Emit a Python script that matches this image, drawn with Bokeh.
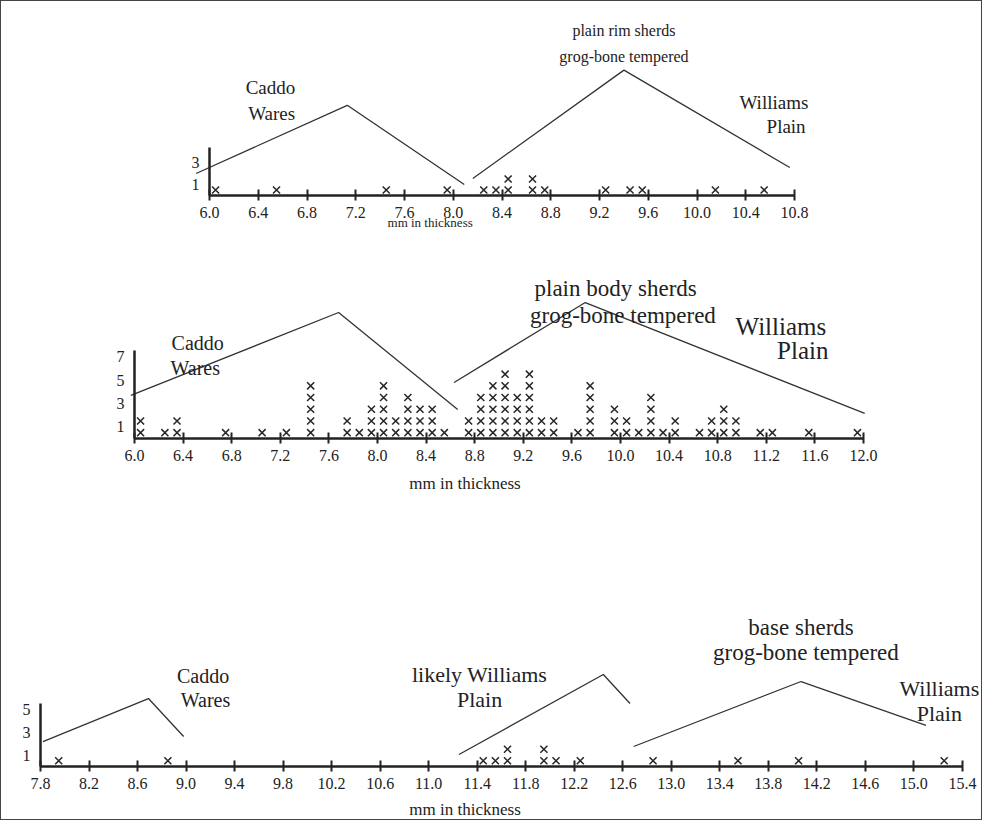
from bokeh.plotting import figure
from bokeh.layouts import column
from bokeh.models import Range1d, LinearAxis, FixedTicker, Label
from bokeh.embed import file_html
from bokeh.resources import INLINE

# ---------------- data ----------------
# Panel 1: plain rim sherds (bin centres in mm, number of sherds)
rim_mm = [6.05, 6.55, 7.45, 7.95, 8.25, 8.35, 8.45, 8.65, 8.75, 9.25, 9.45, 9.55, 10.15, 10.55]
rim_n = [1, 1, 1, 1, 1, 1, 2, 2, 1, 1, 1, 1, 1, 1]
rim_xticks = ["6.0", "6.4", "6.8", "7.2", "7.6", "8.0", "8.4", "8.8", "9.2", "9.6", "10.0", "10.4", "10.8"]
rim_yticks = ["1", "3"]

# Panel 2: plain body sherds
body_mm = [6.05, 6.25, 6.35, 6.75, 7.05, 7.25, 7.45, 7.75, 7.85, 7.95, 8.05, 8.15, 8.25, 8.35,
           8.45, 8.55, 8.75, 8.85, 8.95, 9.05, 9.15, 9.25, 9.35, 9.45, 9.65, 9.75, 9.95, 10.05,
           10.15, 10.25, 10.35, 10.45, 10.65, 10.75, 10.85, 10.95, 11.15, 11.25, 11.55, 11.95]
body_n = [2, 1, 2, 1, 1, 1, 5, 2, 1, 3, 5, 2, 4, 3,
          3, 1, 2, 4, 5, 6, 4, 6, 2, 2, 1, 5, 3, 2,
          1, 4, 1, 2, 1, 2, 3, 2, 1, 1, 1, 1]
body_xticks = ["6.0", "6.4", "6.8", "7.2", "7.6", "8.0", "8.4", "8.8", "9.2", "9.6", "10.0",
               "10.4", "10.8", "11.2", "11.6", "12.0"]
body_yticks = ["1", "3", "5", "7"]

# Panel 3: base sherds
base_mm = [7.95, 8.85, 11.45, 11.55, 11.65, 11.95, 12.05, 12.25, 12.85, 13.55, 14.05, 15.25]
base_n = [1, 1, 1, 1, 2, 2, 1, 1, 1, 1, 1, 1]
base_xticks = ["7.8", "8.2", "8.6", "9.0", "9.4", "9.8", "10.2", "10.6", "11.0", "11.4", "11.8",
               "12.2", "12.6", "13.0", "13.4", "13.8", "14.2", "14.6", "15.0", "15.4"]
base_yticks = ["1", "3", "5"]

axis_title = "mm in thickness"

# grouping brackets (mm, level) and their labels
rim_brackets = [([5.89, 7.13, 8.09], [2.0, 8.2, 1.0]),
                ([8.16, 9.40, 10.76], [1.55, 11.4, 2.55])]
rim_texts = [("plain rim sherds", 9.40, 15.0, 16), ("grog-bone tempered", 9.40, 12.6, 16),
             ("Caddo", 6.50, 9.8, 19), ("Wares", 6.51, 7.45, 19),
             ("Williams", 10.63, 8.45, 19), ("Plain", 10.73, 6.27, 19)]

body_brackets = [([5.97, 7.68, 8.66], [3.68, 10.77, 2.48]),
                 ([8.63, 9.71, 12.01], [4.79, 11.62, 2.14])]
body_texts = [("plain body sherds", 9.96, 12.8, 23), ("grog-bone tempered", 10.02, 10.5, 23),
              ("Caddo", 6.52, 8.2, 20), ("Wares", 6.50, 6.0, 20),
              ("Williams", 11.32, 9.57, 25), ("Plain", 11.50, 7.5, 25)]

base_brackets = [([7.82, 8.69, 8.98], [2.17, 5.91, 2.61]),
                 ([11.25, 12.44, 12.66], [1.04, 8.0, 5.48]),
                 ([12.69, 14.07, 15.10], [1.74, 7.39, 3.57])]
base_texts = [("Caddo", 9.14, 7.9, 20), ("Wares", 9.16, 5.8, 20),
              ("likely Williams", 11.42, 8.0, 22), ("Plain", 11.42, 5.8, 22),
              ("base sherds", 14.07, 12.1, 23), ("grog-bone tempered", 14.11, 9.9, 23),
              ("Williams", 15.21, 6.8, 22), ("Plain", 15.21, 4.6, 22)]

FONT = "Liberation Serif"
INK = "#222222"
W = 980


def xr(v0, px0, s):
    start = v0 - px0 / s
    return Range1d(start, start + W / s)


def yr(axis_px, h, s):
    return Range1d(-(h - axis_px) / s, axis_px / s)


def panel(mm, n, xticks, yticks, brackets, texts, h, x_range, y_range, ytop, title_xy, title_fs):
    p = figure(width=W, height=h, x_range=x_range, y_range=y_range,
               output_backend="svg", toolbar_location=None, min_border=0,
               x_axis_type=None, y_axis_type=None)
    p.outline_line_color = None
    p.background_fill_color = "white"
    p.border_fill_color = "white"

    xs, ys = [], []
    for v, c in zip(mm, n):
        for k in range(1, c + 1):
            xs.append(v)
            ys.append(k - 0.5)
    p.scatter(x=xs, y=ys, marker="x", size=10, line_color="#262626", line_width=1.5)

    for bx, by in brackets:
        p.line(bx, by, line_color="#333333", line_width=1.3)

    xt = [float(t) for t in xticks]
    xa = LinearAxis(fixed_location=0, bounds=(xt[0], xt[-1]), ticker=FixedTicker(ticks=xt),
                    major_label_overrides={float(t): t for t in xticks})
    xa.axis_line_width = 2.5
    xa.axis_line_color = INK
    xa.major_tick_line_width = 2
    xa.major_tick_line_color = INK
    xa.major_tick_in = 6
    xa.major_tick_out = 5
    xa.minor_tick_line_color = None
    xa.major_label_standoff = 6
    xa.major_label_text_font = FONT
    xa.major_label_text_font_size = "16px"
    xa.major_label_text_color = INK
    p.add_layout(xa, "below")

    yt = [float(t) for t in yticks]
    ya = LinearAxis(fixed_location=xt[0], bounds=(0, ytop), ticker=FixedTicker(ticks=yt),
                    major_label_overrides={float(t): t for t in yticks})
    ya.axis_line_width = 2.5
    ya.axis_line_color = INK
    ya.major_tick_line_color = None
    ya.major_tick_in = 0
    ya.major_tick_out = 0
    ya.minor_tick_line_color = None
    ya.major_label_standoff = 10
    ya.major_label_text_font = FONT
    ya.major_label_text_font_size = "16px"
    ya.major_label_text_color = INK
    p.add_layout(ya, "left")

    for txt, tx, ty, fs in texts:
        p.add_layout(Label(x=tx, y=ty, text=txt, text_font=FONT, text_font_size=f"{fs}px",
                           text_align="center", text_baseline="middle", text_color=INK))
    p.add_layout(Label(x=title_xy[0], y=title_xy[1], text=axis_title, text_font=FONT,
                       text_font_size=f"{title_fs}px", text_align="center",
                       text_baseline="middle", text_color=INK))
    return p


p1 = panel(rim_mm, rim_n, rim_xticks, rim_yticks, rim_brackets, rim_texts, 241,
           xr(6.0, 208, 121.9), yr(194, 241, 11.0), 4.4, (7.81, -2.45), 13)
p2 = panel(body_mm, body_n, body_xticks, body_yticks, body_brackets, body_texts, 260,
           xr(6.0, 133, 121.5), yr(196, 260, 11.7), 7.5, (8.72, -3.85), 17)
p3 = panel(base_mm, base_n, base_xticks, base_yticks, base_brackets, base_texts, 317,
           xr(7.8, 39, 121.3), yr(264, 317, 11.5), 5.5, (11.30, -3.7), 17)

layout = column(p1, p2, p3, spacing=0, styles={"border": "1px solid #444"})

open("out.html", "w").write(file_html(layout, INLINE))
